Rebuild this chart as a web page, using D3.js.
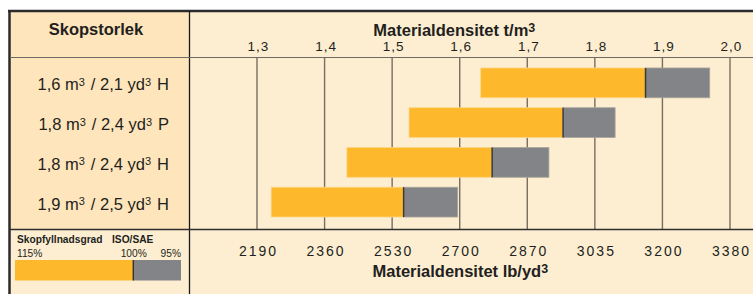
<!DOCTYPE html>
<html>
<head>
<meta charset="utf-8">
<script src="https://cdn.jsdelivr.net/npm/d3@7"></script>
<style>
  body { margin: 0; background: #fff; }
  text { font-family: "Liberation Sans", Arial, Helvetica, sans-serif; fill: #231f20; }
</style>
</head>
<body>
<div id="chart"></div>
<script>
// --- data ---
const buckets = ["1,6 m³ / 2,1 yd³ H", "1,8 m³ / 2,4 yd³ P", "1,8 m³ / 2,4 yd³ H", "1,9 m³ / 2,5 yd³ H"];
const density115 = [1.631, 1.525, 1.433, 1.321];   // t/m3 at 115 % fill
const density100 = [1.875, 1.753, 1.648, 1.517];   // ISO/SAE rated (100 %)
const density95 = [1.970, 1.830, 1.732, 1.597];    // 95 % fill
const metricTicks = [1.3, 1.4, 1.5, 1.6, 1.7, 1.8, 1.9, 2.0];
const imperialLabels = ["2190", "2360", "2530", "2700", "2870", "3035", "3200", "3380"];
const legendFill = [115, 100, 95];

const W = 753, H = 294;
const frameL = 10, frameT = 11, colX = 189.5, headY = 57.5, footY = 229.5;

const svg = d3.select("#chart").append("svg")
    .attr("width", W).attr("height", H);

// backgrounds
svg.append("rect").attr("x", frameL).attr("y", frameT).attr("width", W - frameL).attr("height", H - frameT)
    .attr("fill", "#fdeed2");
svg.append("rect").attr("x", frameL).attr("y", frameT).attr("width", colX - frameL).attr("height", footY - frameT)
    .attr("fill", "#fee5bc");

// scales
const x = d3.scaleLinear().domain([1.3, 2.0]).range([257, 730]);
const y = d3.scaleBand().domain(buckets).range([63, 222]).paddingInner(0.25).paddingOuter(0.125);

// gridlines
svg.append("g").selectAll("line").data(metricTicks).join("line")
    .attr("x1", d => x(d)).attr("x2", d => x(d))
    .attr("y1", headY).attr("y2", footY)
    .attr("stroke", "#776e62").attr("stroke-width", 1.4);

// bars
const rows = buckets.map((b, i) => ({ b, lo: density115[i], mid: density100[i], hi: density95[i] }));
const bars = svg.append("g").selectAll("g").data(rows).join("g");
bars.append("rect")
    .attr("x", d => x(d.lo)).attr("y", d => y(d.b))
    .attr("width", d => x(d.mid) - x(d.lo)).attr("height", y.bandwidth())
    .attr("fill", "#fdb92b").attr("stroke", "#fbd68a").attr("stroke-width", 0.8);
bars.append("rect")
    .attr("x", d => x(d.mid)).attr("y", d => y(d.b))
    .attr("width", d => x(d.hi) - x(d.mid)).attr("height", y.bandwidth())
    .attr("fill", "#838487").attr("stroke", "#aaa69c").attr("stroke-width", 0.8);
bars.append("line")
    .attr("x1", d => x(d.mid)).attr("x2", d => x(d.mid))
    .attr("y1", d => y(d.b)).attr("y2", d => y(d.b) + y.bandwidth())
    .attr("stroke", "#3a3a3a").attr("stroke-width", 1.5);

// axes (labels only, gridlines drawn above)
const topAxis = svg.append("g").attr("transform", `translate(0,${headY - 4})`)
    .call(d3.axisTop(x).tickValues(metricTicks).tickSize(0).tickFormat(d => d3.format(".1f")(d).replace(".", ",")));
topAxis.select(".domain").remove();
topAxis.selectAll("text").attr("font-size", 13.5).attr("letter-spacing", 1).attr("fill", "#231f20")
    .attr("font-family", null).attr("dy", 0).attr("dx", 1);

const botAxis = svg.append("g").attr("transform", `translate(0,${footY + 23})`)
    .call(d3.axisBottom(x).tickValues(metricTicks).tickSize(0).tickFormat((d, i) => imperialLabels[i]));
botAxis.select(".domain").remove();
botAxis.selectAll("text").attr("font-size", 14).attr("letter-spacing", 2).attr("fill", "#231f20")
    .attr("font-family", null).attr("dy", 0).attr("dx", 1);

// row labels with superscripts
function supText(sel, str, size, supSize, rise) {
    const parts = str.split("³");
    parts.forEach((p, i) => {
        sel.append("tspan").text(p).attr("font-size", size);
        if (i < parts.length - 1) {
            sel.append("tspan").text("3").attr("font-size", supSize).attr("dy", -rise);
            sel.append("tspan").text("\u200a").attr("font-size", size).attr("dy", rise);
        }
    });
}
svg.append("g").selectAll("text").data(buckets).join("text")
    .attr("x", 169).attr("y", d => y(d) + y.bandwidth() / 2 + 7.5)
    .attr("text-anchor", "end").attr("fill", "#333")
    .each(function(d) { supText(d3.select(this), d, 16.5, 11, 4.5); });

// headers
svg.append("text").attr("x", 96).attr("y", 35).attr("text-anchor", "middle")
    .attr("font-size", 16.5).attr("font-weight", "bold").text("Skopstorlek");
svg.append("text").attr("x", 455).attr("y", 36).attr("text-anchor", "middle")
    .attr("font-weight", "bold").each(function() { supText(d3.select(this), "Materialdensitet t/m³", 16.5, 12.5, 4); });
svg.append("text").attr("x", 461).attr("y", 277).attr("text-anchor", "middle")
    .attr("font-weight", "bold").each(function() { supText(d3.select(this), "Materialdensitet lb/yd³", 16.5, 12.5, 4); });

// legend
const lx = d3.scaleLinear().domain([100 / 115, 100 / 95]).range([15, 181]);
const legend = svg.append("g");
legend.append("text").attr("x", 17).attr("y", 243).attr("font-size", 10.2).attr("font-weight", "bold").text("Skopfyllnadsgrad");
legend.append("text").attr("x", 112).attr("y", 243).attr("font-size", 10.2).attr("font-weight", "bold").text("ISO/SAE");
legend.append("text").attr("x", lx(100 / legendFill[0]) + 2).attr("y", 256.5).attr("font-size", 10.2).attr("fill", "#333").text(legendFill[0] + "%");
legend.append("text").attr("x", lx(100 / legendFill[1]) + 13.5).attr("y", 256.5).attr("font-size", 10.2).attr("fill", "#333").attr("text-anchor", "end").text(legendFill[1] + "%");
legend.append("text").attr("x", lx(100 / legendFill[2])).attr("y", 256.5).attr("font-size", 10.2).attr("fill", "#333").attr("text-anchor", "end").text(legendFill[2] + "%");
legend.append("rect").attr("x", lx(100 / legendFill[0])).attr("y", 260)
    .attr("width", lx(100 / legendFill[1]) - lx(100 / legendFill[0])).attr("height", 20.5).attr("fill", "#fdb92b");
legend.append("rect").attr("x", lx(100 / legendFill[1])).attr("y", 260)
    .attr("width", lx(100 / legendFill[2]) - lx(100 / legendFill[1])).attr("height", 20.5).attr("fill", "#838487");
legend.append("line").attr("x1", lx(1)).attr("x2", lx(1)).attr("y1", 260).attr("y2", 280.5)
    .attr("stroke", "#2a2a2a").attr("stroke-width", 1.3);

// frame lines
svg.append("line").attr("x1", frameL - 2).attr("x2", W).attr("y1", frameT).attr("y2", frameT)
    .attr("stroke", "#2b2b2b").attr("stroke-width", 2.5);
svg.append("line").attr("x1", frameL - 0.5).attr("x2", frameL - 0.5).attr("y1", frameT).attr("y2", H)
    .attr("stroke", "#2b2b2b").attr("stroke-width", 2.5);
svg.append("line").attr("x1", colX).attr("x2", colX).attr("y1", frameT).attr("y2", H)
    .attr("stroke", "#1a1a1a").attr("stroke-width", 1.3);
svg.append("line").attr("x1", frameL).attr("x2", W).attr("y1", headY).attr("y2", headY)
    .attr("stroke", "#6e6a64").attr("stroke-width", 1.2);
svg.append("line").attr("x1", frameL).attr("x2", W).attr("y1", footY).attr("y2", footY)
    .attr("stroke", "#2e2e2e").attr("stroke-width", 1.4);
</script>
</body>
</html>
